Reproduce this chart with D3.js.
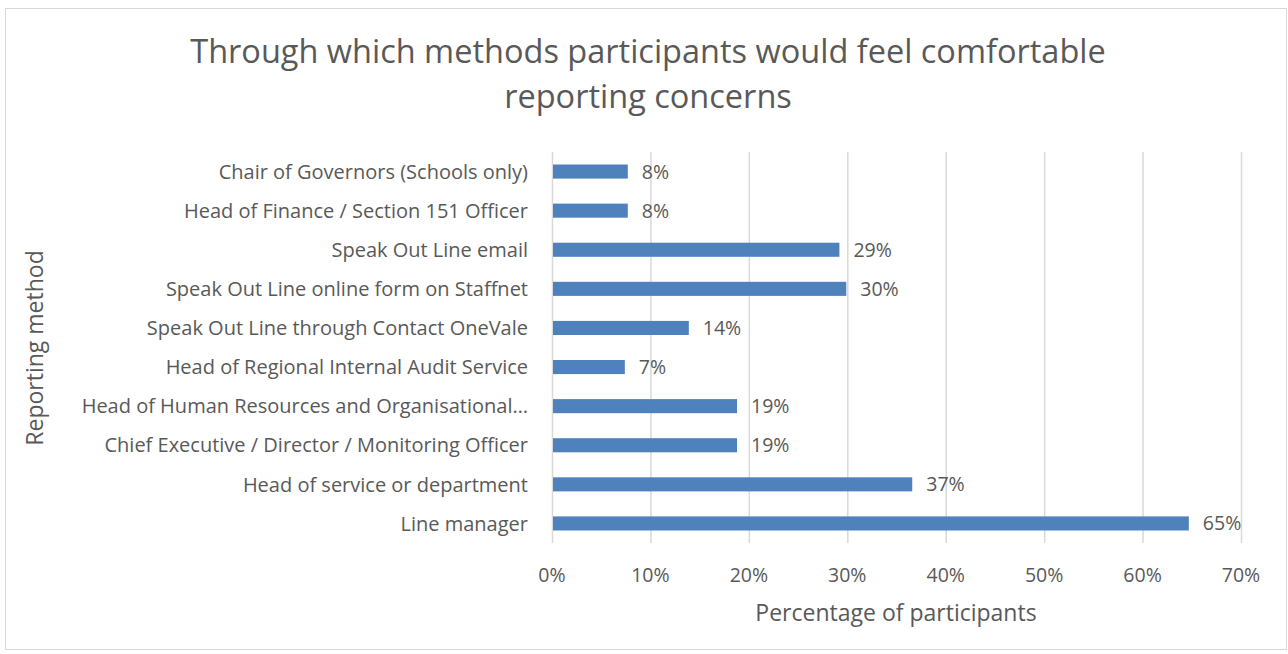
<!DOCTYPE html>
<html>
<head>
<meta charset="utf-8">
<script src="https://cdn.jsdelivr.net/npm/d3@7"></script>
<style>
  body { margin: 0; background: #fff; }
  text { font-family: "Open Sans", Lato, sans-serif; fill: #595959; }
</style>
</head>
<body>
<div id="chart"></div>
<script>
// categories listed top to bottom as in the chart
var methods = [
    "Chair of Governors (Schools only)",
    "Head of Finance / Section 151 Officer",
    "Speak Out Line email",
    "Speak Out Line online form on Staffnet",
    "Speak Out Line through Contact OneVale",
    "Head of Regional Internal Audit Service",
    "Head of Human Resources and Organisational\u2026",
    "Chief Executive / Director / Monitoring Officer",
    "Head of service or department",
    "Line manager"
];
var percents = [7.7, 7.7, 29.2, 29.9, 13.9, 7.4, 18.8, 18.8, 36.6, 64.7];
var xTicks = [0, 10, 20, 30, 40, 50, 60, 70];
var titleLines = ["Through which methods participants would feel comfortable", "reporting concerns"];

var width = 1288, height = 654;
var margin = {top: 152, right: 47, bottom: 111, left: 552};

var svg = d3.select("#chart").append("svg")
    .attr("width", width)
    .attr("height", height);

// outer chart border
svg.append("rect")
    .attr("x", 5.5).attr("y", 8.5)
    .attr("width", 1281).attr("height", 641)
    .attr("fill", "none")
    .attr("stroke", "#d9d9d9");

var x = d3.scaleLinear()
    .domain([0, 70])
    .range([margin.left, width - margin.right]);

var y = d3.scaleBand()
    .domain(methods)
    .range([margin.top, height - margin.bottom])
    .paddingInner(0.64)
    .paddingOuter(0.32);

// gridlines
svg.append("g").selectAll("line")
    .data(xTicks)
    .enter().append("line")
    .attr("x1", function(d) { return x(d) + 0.5; })
    .attr("x2", function(d) { return x(d) + 0.5; })
    .attr("y1", margin.top)
    .attr("y2", height - margin.bottom)
    .attr("stroke", "#d9d9d9")
    .attr("stroke-width", 1.5);

// bars
svg.append("g").selectAll("rect")
    .data(methods)
    .enter().append("rect")
    .attr("x", x(0) + 1)
    .attr("y", function(d) { return y(d); })
    .attr("width", function(d, i) { return x(percents[i]) - x(0) - 1; })
    .attr("height", y.bandwidth())
    .attr("fill", "#4f81bd");

var fmt = d3.format(".0%");

// value labels
svg.append("g").selectAll("text")
    .data(methods)
    .enter().append("text")
    .attr("x", function(d, i) { return x(percents[i]) + 14; })
    .attr("y", function(d) { return y(d) + y.bandwidth() / 2; })
    .attr("dy", "0.36em")
    .style("font-size", "19.5px")
    .text(function(d, i) { return fmt(percents[i] / 100); });

// category labels
svg.append("g").selectAll("text")
    .data(methods)
    .enter().append("text")
    .attr("x", margin.left - 24)
    .attr("y", function(d) { return y(d) + y.bandwidth() / 2; })
    .attr("dy", "0.36em")
    .attr("text-anchor", "end")
    .style("font-size", "20px")
    .text(function(d) { return d; });

// x tick labels
svg.append("g").selectAll("text")
    .data(xTicks)
    .enter().append("text")
    .attr("x", function(d) { return x(d); })
    .attr("y", 582)
    .attr("text-anchor", "middle")
    .style("font-size", "19.5px")
    .text(function(d) { return d + "%"; });

// axis titles
svg.append("text")
    .attr("x", 896)
    .attr("y", 621)
    .attr("text-anchor", "middle")
    .style("font-size", "23px")
    .text("Percentage of participants");

svg.append("text")
    .attr("transform", "translate(43,348) rotate(-90)")
    .attr("text-anchor", "middle")
    .style("font-size", "23px")
    .text("Reporting method");

// title
svg.append("g").selectAll("text")
    .data(titleLines)
    .enter().append("text")
    .attr("x", 648)
    .attr("y", function(d, i) { return 63 + i * 45; })
    .attr("text-anchor", "middle")
    .style("font-size", "32.5px")
    .text(function(d) { return d; });
</script>
</body>
</html>
